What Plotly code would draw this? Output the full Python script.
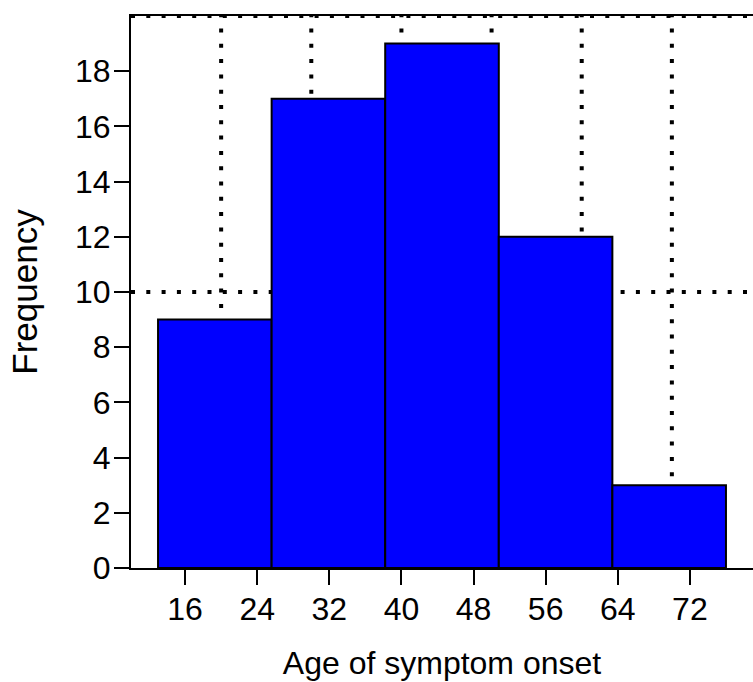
import plotly.graph_objects as go

# Data
bin_edges = [13.0, 25.6, 38.2, 50.8, 63.4, 76.0]
counts = [9, 17, 19, 12, 3]
x_tickvals = [16, 24, 32, 40, 48, 56, 64, 72]
y_tickvals = [0, 2, 4, 6, 8, 10, 12, 14, 16, 18]
grid_x = [20, 30, 40, 50, 60, 70]
grid_y = [10, 20]

centers = [(a + b) / 2 for a, b in zip(bin_edges[:-1], bin_edges[1:])]
widths = [b - a for a, b in zip(bin_edges[:-1], bin_edges[1:])]

FONT = "Liberation Sans, Arial, Helvetica, sans-serif"
DOT = "4px,11.3px"

fig = go.Figure()
fig.add_trace(go.Bar(
    x=centers, y=counts, width=widths,
    marker=dict(color="#0000FF", line=dict(color="black", width=2)),
    hoverinfo="skip",
))

shapes = []
for gx in grid_x:
    shapes.append(dict(type="line", xref="x", yref="paper", x0=gx, x1=gx, y0=0, y1=1,
                       line=dict(color="black", width=4, dash=DOT), layer="below"))
for gy in grid_y:
    shapes.append(dict(type="line", xref="paper", yref="y", x0=0, x1=1, y0=gy, y1=gy,
                       line=dict(color="black", width=4, dash=DOT), layer="below"))

fig.update_layout(
    width=753, height=682,
    margin=dict(l=131, r=0, t=16, b=114, autoexpand=False),
    paper_bgcolor="white", plot_bgcolor="white",
    font=dict(family=FONT, color="black", size=32),
    showlegend=False,
    shapes=shapes,
    xaxis=dict(
        range=[10, 79], tickmode="array", tickvals=x_tickvals,
        ticks="outside", ticklen=15, tickwidth=2, tickcolor="black",
        showline=True, linecolor="black", linewidth=2, mirror=True,
        showgrid=False, zeroline=False, automargin=False,
        tickfont=dict(size=32), ticklabelstandoff=-3,
        title=dict(text="Age of symptom onset", font=dict(size=32), standoff=25),
    ),
    yaxis=dict(
        range=[0, 20], tickmode="array", tickvals=y_tickvals,
        ticks="outside", ticklen=15, tickwidth=2, tickcolor="black",
        showline=True, linecolor="black", linewidth=2,
        showgrid=False, zeroline=False, automargin=False,
        tickfont=dict(size=32), ticklabelstandoff=-3,
        title=dict(text="Frequency", font=dict(size=35), standoff=27),
    ),
)

fig.write_html(
    "out.html",
    config={"displayModeBar": False},
    post_script="document.body.style.margin='0';document.body.style.overflow='hidden';",
)
